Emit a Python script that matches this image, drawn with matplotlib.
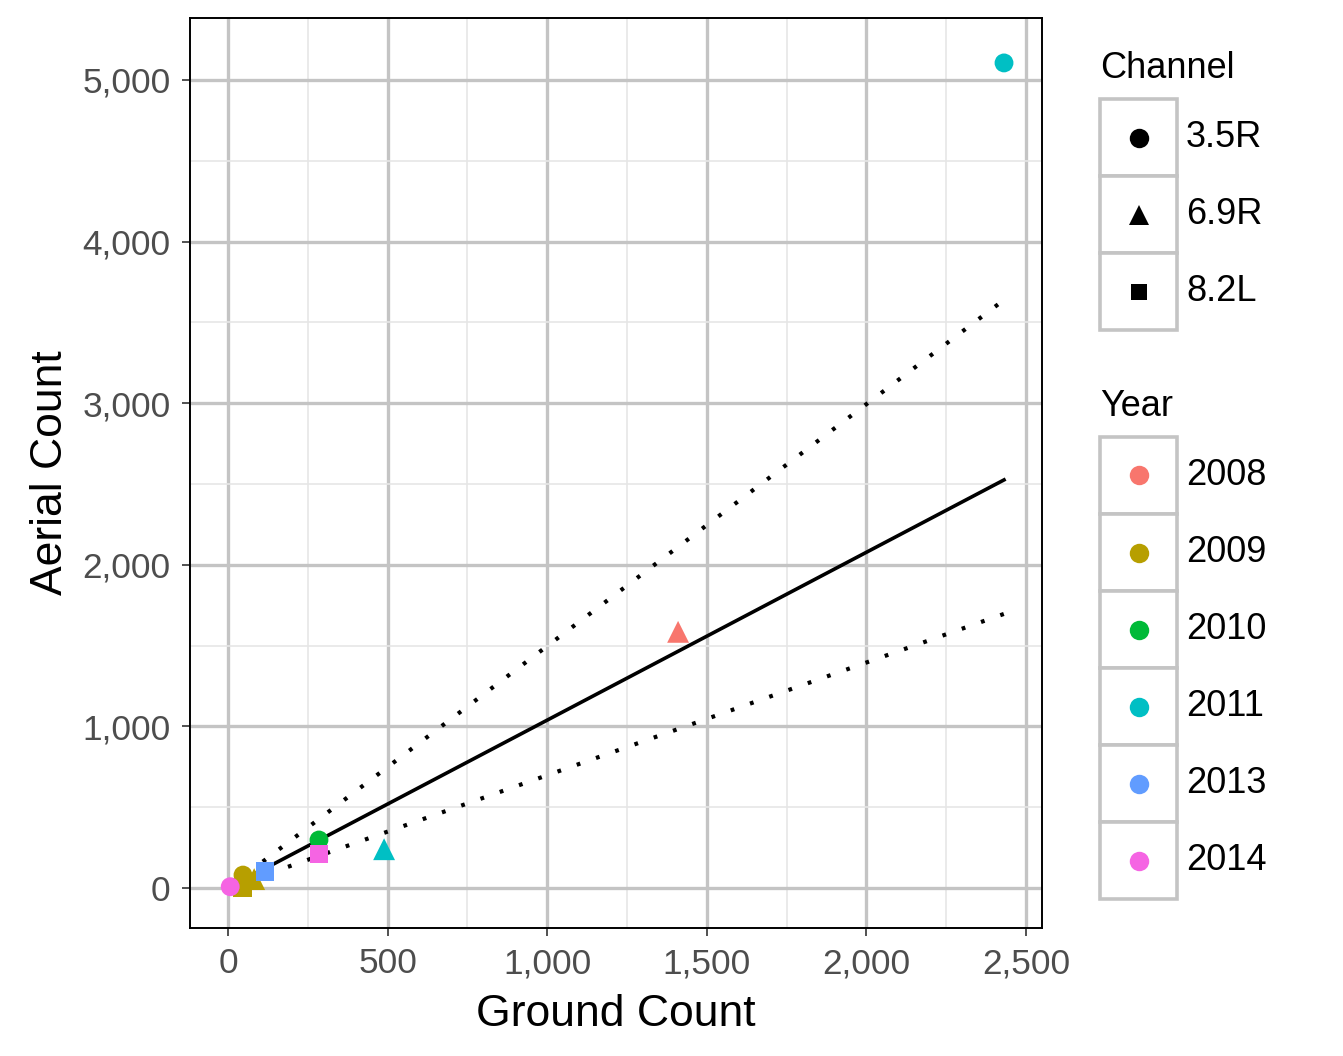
import matplotlib
matplotlib.use("Agg")
import matplotlib.pyplot as plt
from matplotlib.ticker import FuncFormatter, MultipleLocator
from matplotlib.patches import Rectangle

plt.rcParams["font.family"] = ["Liberation Sans", "DejaVu Sans"]

# ---- data ----
years = ["2008", "2009", "2009", "2009", "2010", "2011", "2011", "2013", "2014", "2014"]
channels = ["6.9R", "3.5R", "6.9R", "8.2L", "3.5R", "3.5R", "6.9R", "8.2L", "8.2L", "3.5R"]
ground = [1410, 47, 82, 45, 285, 2431, 489, 116, 285, 7]
aerial = [1585, 80, 55, 5, 297, 5105, 240, 100, 210, 8]

fit_x = [7, 2431]
fit_y = [7.3, 2525]
upper_y = [10.5, 3639]
lower_y = [4.9, 1696]

year_levels = ["2008", "2009", "2010", "2011", "2013", "2014"]
year_colors = ["#F8766D", "#B79F00", "#00BA38", "#00BFC4", "#619CFF", "#F564E3"]
channel_levels = ["3.5R", "6.9R", "8.2L"]
channel_markers = {"3.5R": "o", "6.9R": "^", "8.2L": "s"}
marker_size = {"o": 46, "^": 62, "s": 46}

W, H, DPI = 1343, 1056, 200
fig = plt.figure(figsize=(W / DPI, H / DPI), dpi=DPI)
ax = fig.add_axes([190 / W, 1 - 928 / H, (1042 - 190) / W, (928 - 18) / H])

# lines first, points on top
ax.plot(fit_x, fit_y, color="black", lw=1.3, zorder=3)
ax.plot(fit_x, upper_y, color="black", lw=1.5, ls=(0, (0.9, 4.0)), zorder=3)
ax.plot(fit_x, lower_y, color="black", lw=1.5, ls=(0, (0.9, 4.0)), zorder=3)

color_of = dict(zip(year_levels, year_colors))
for yr, ch, gx, ay in zip(years, channels, ground, aerial):
    m = channel_markers[ch]
    ax.scatter(gx, ay, marker=m, s=marker_size[m], color=color_of[yr],
               edgecolors="none", zorder=4)

ax.set_xlim(-119, 2550)
ax.set_ylim(-247.5, 5383)
ax.xaxis.set_major_locator(MultipleLocator(500))
ax.xaxis.set_minor_locator(MultipleLocator(250))
ax.yaxis.set_major_locator(MultipleLocator(1000))
ax.yaxis.set_minor_locator(MultipleLocator(500))
comma = FuncFormatter(lambda v, p: f"{int(v):,}")
ax.xaxis.set_major_formatter(comma)
ax.yaxis.set_major_formatter(comma)

ax.grid(which="major", color="#C4C4C4", lw=1.2, zorder=0)
ax.grid(which="minor", color="#E6E6E6", lw=0.6, zorder=0)
ax.set_axisbelow(True)
ax.tick_params(which="major", length=3, width=0.6, color="#333333",
               labelsize=12.7, labelcolor="#4D4D4D", pad=4)
ax.tick_params(which="minor", length=0)
for s in ax.spines.values():
    s.set_color("black")
    s.set_linewidth(0.7)

ax.set_xlabel("Ground Count", fontsize=16, labelpad=5)
ax.set_ylabel("Aerial Count", fontsize=16, labelpad=4)


def draw_legend(title, title_y, top, labels, colors, markers):
    key_w, key_h = 77, 77
    x0 = 1100
    fig.text(x0 / W, 1 - title_y / H, title, fontsize=13, ha="left", va="center")
    for i, (lab, c, m) in enumerate(zip(labels, colors, markers)):
        y_top = top + i * key_h
        fig.patches.append(Rectangle((x0 / W, 1 - (y_top + key_h) / H), key_w / W, key_h / H,
                                     transform=fig.transFigure, facecolor="white",
                                     edgecolor="#C4C4C4", lw=1.3))
        cy = y_top + key_h / 2
        cx = x0 + key_w / 2
        fig.lines.append(plt.Line2D([cx / W], [1 - cy / H], marker=m, color=c,
                                    markersize=7.0 if m != "s" else 5.8,
                                    markeredgewidth=0, linestyle="none",
                                    transform=fig.transFigure))
        fig.text((x0 + key_w + 9) / W, 1 - cy / H, lab, fontsize=13,
                 ha="left", va="center")


draw_legend("Channel", 68, 99, channel_levels, ["black"] * 3,
            [channel_markers[c] for c in channel_levels])
draw_legend("Year", 406, 437, year_levels, year_colors, ["o"] * 6)

fig.savefig("out.png", dpi=DPI)
